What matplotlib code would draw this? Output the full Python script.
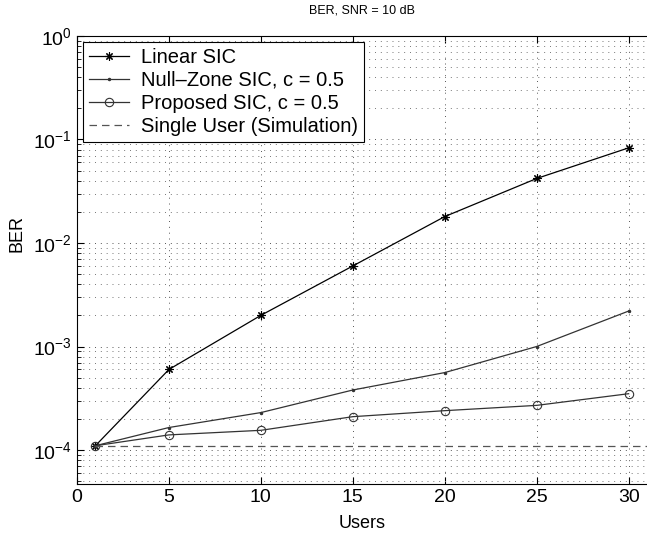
import numpy as np
import matplotlib
matplotlib.use('Agg')
import matplotlib.pyplot as plt
from matplotlib.ticker import LogLocator, FixedLocator

plt.rcParams['font.family'] = ['Liberation Sans', 'DejaVu Sans']
plt.rcParams['mathtext.fontset'] = 'custom'
plt.rcParams['mathtext.rm'] = 'Liberation Sans'
plt.rcParams['mathtext.it'] = 'Liberation Sans'

# data
users = [1, 5, 10, 15, 20, 25, 30]
linear_sic = [1.1e-4, 6.0e-4, 2.0e-3, 6.0e-3, 1.8e-2, 4.2e-2, 8.3e-2]
null_zone = [1.1e-4, 1.65e-4, 2.3e-4, 3.8e-4, 5.6e-4, 1.0e-3, 2.2e-3]
proposed = [1.1e-4, 1.4e-4, 1.55e-4, 2.1e-4, 2.4e-4, 2.7e-4, 3.5e-4]
single_x = [1, 31]
single_user = [1.1e-4, 1.1e-4]

fig = plt.figure(figsize=(6.47, 5.33), dpi=100)
ax = fig.add_axes([0.119, 0.092, 0.881, 0.8405])

# asterisk marker like matlab's '*'
ax.semilogy(users, linear_sic, '-', color='black', lw=0.9, marker=(8, 2, 0),
            ms=6, mew=0.8, label='Linear SIC')
ax.semilogy(users, null_zone, '-', color='#333333', lw=0.9, marker='.', ms=3,
            label='Null\u2013Zone SIC, c = 0.5')
ax.semilogy(users, proposed, '-', color='#333333', lw=0.9, marker='o', ms=6,
            mfc='none', mew=0.8, label='Proposed SIC, c = 0.5')
ax.semilogy(single_x, single_user, '--', color='#555555', lw=0.9, dashes=(6, 4),
            label='Single User (Simulation)')

ax.set_xlim(0, 31)
ax.set_ylim(4.7e-5, 1)
ax.xaxis.set_major_locator(FixedLocator([0, 5, 10, 15, 20, 25, 30]))
ax.yaxis.set_major_locator(LogLocator(base=10, numticks=10))
ax.yaxis.set_minor_locator(LogLocator(base=10, subs=np.arange(2, 10), numticks=10))

ax.grid(True, which='major', linestyle=(0, (1, 5)), color='#555555', lw=0.7)
ax.grid(True, which='minor', axis='y', linestyle=(0, (1, 5)), color='#777777', lw=0.7)
ax.tick_params(which='both', direction='in', labelsize=14, top=True, right=False)
ax.tick_params(which='major', length=5)
ax.tick_params(which='minor', length=3)
ax.spines['right'].set_visible(False)

ax.set_xlabel('Users', fontsize=13)
ax.set_ylabel('BER', fontsize=13)
ax.xaxis.set_label_coords(0.5, -0.069)
ax.yaxis.set_label_coords(-0.09, 0.56)
ax.set_title('BER, SNR = 10 dB', fontsize=9, pad=16)

leg = ax.legend(loc='upper left', fontsize=14.5, fancybox=False, framealpha=1,
                edgecolor='black', borderaxespad=0.28, handlelength=2.0,
                handletextpad=0.6, labelspacing=0.2, borderpad=0.3)
leg.get_frame().set_linewidth(0.8)

fig.savefig('out.png', dpi=100)
